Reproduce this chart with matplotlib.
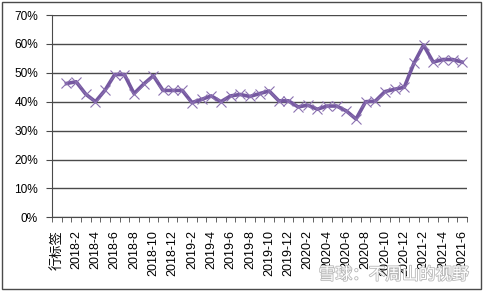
import numpy as np
import matplotlib
matplotlib.use('Agg')
import matplotlib.pyplot as plt
import matplotlib.patheffects as pe
from matplotlib.patches import Rectangle

plt.rcParams['font.family'] = ['Liberation Sans', 'Noto Sans CJK SC', 'DejaVu Sans']

# categories: pivot header row + monthly 2018-1 .. 2021-6
months = [f'{y}-{m}' for y in range(2018, 2022) for m in range(1, 13)][:42]
categories = ['行标签'] + months
# share values (%), header row has no value
values = [np.nan,
          46.3, 46.9, 42.6, 40.0, 44.0, 49.4, 49.4, 42.8, 46.1, 49.0, 43.9, 43.9,
          43.9, 39.7, 40.8, 42.0, 40.0, 42.0, 42.5, 41.8, 42.8, 43.7, 40.3, 40.3,
          38.2, 38.8, 37.4, 38.5, 38.5, 36.8, 34.0, 40.0, 40.2, 43.5, 44.3, 45.0,
          53.3, 59.6, 53.7, 54.6, 54.6, 53.7]
y_ticks = [0, 10, 20, 30, 40, 50, 60, 70]

fig = plt.figure(figsize=(4.83, 2.91), dpi=100)
ax = fig.add_axes([52 / 483, 1 - 217.3 / 291, 415 / 483, 202.3 / 291])

x = np.arange(len(categories))
ax.plot(x, values, color='#7558A0', lw=2.6, marker='x', ms=7,
        mec='#8A70B0', mew=0.8, zorder=3)

ax.set_xlim(-0.5, len(categories) - 0.5)
ax.set_ylim(0, 70)
ax.set_yticks(y_ticks)
ax.set_yticklabels([f'{v}%' for v in y_ticks], fontsize=8.6)
ax.yaxis.grid(True, color='#4a4a4a', lw=1)
ax.set_axisbelow(True)

# labels every other category, ticks on boundaries
ax.set_xticks(x[::2])
ax.set_xticklabels(categories[::2], rotation=90, fontsize=9)
ax.get_xticklabels()[0].set_fontsize(9.5)
ax.tick_params(axis='x', length=0, pad=9)
ax.set_xticks(np.arange(-0.5, len(categories)), minor=True)
ax.tick_params(axis='x', which='minor', length=3.5, color='#4a4a4a', direction='out')
ax.tick_params(axis='y', length=4.5, color='#4a4a4a', direction='out', pad=5.5)

for s in ['top', 'right']:
    ax.spines[s].set_visible(False)
for s in ['left', 'bottom']:
    ax.spines[s].set_color('#4a4a4a')

# watermark
fig.text(0.815, 0.055, '雪球：不周山的视野', fontsize=12, color='white',
         family=['Noto Sans CJK SC'], ha='center', va='center', zorder=5,
         path_effects=[pe.withStroke(linewidth=1.2, foreground='#b8b8b8')])

fig.patches.append(Rectangle((1.5 / 483, 2 / 291), 479 / 483, 287 / 291,
                             transform=fig.transFigure, fill=False,
                             ec='#4a4a4a', lw=1))

fig.savefig('out.png', dpi=100)
